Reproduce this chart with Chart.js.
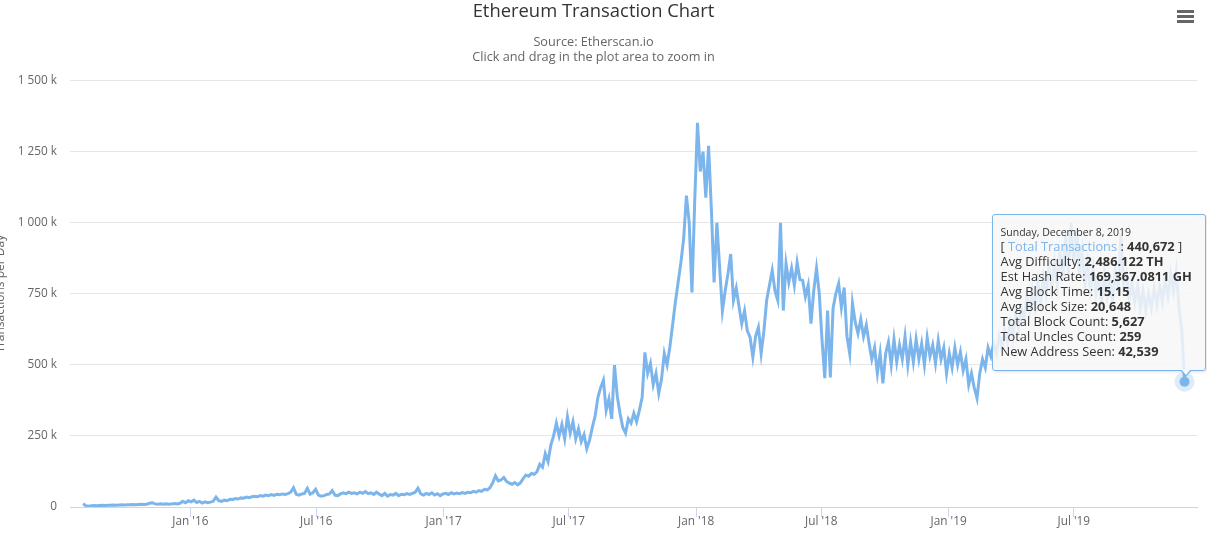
<!DOCTYPE html>
<html lang="en">
<head>
    <meta charset="UTF-8">
    <title>Ethereum Transaction Chart</title>
    <!-- Chart.js -->
    <script src="https://cdn.jsdelivr.net/npm/chart.js"></script>
    <style>
        body { margin: 0; background: #fff; font-family: "Open Sans", Arial, sans-serif; }
        #wrap { position: relative; width: 1207px; height: 536px; overflow: hidden; }
        #txChart { position: absolute; left: -10px; top: 0; }
        .menu { position: absolute; left: 1177px; top: 10px; width: 17px; }
        .menu span { display: block; height: 3px; background: #666; margin-bottom: 2px; }
        #tip {
            position: absolute; width: 214px; box-sizing: border-box;
            padding: 10px 8px 11px 8px;
            background: rgba(247, 247, 247, 0.85);
            border: 1px solid #7cb5ec; border-radius: 3px;
            box-shadow: 1px 1px 3px rgba(0, 0, 0, 0.12);
            color: #333; font-size: 12.8px; line-height: 15px; white-space: nowrap;
        }
        #tip .date { font-size: 10.5px; line-height: 14px; }
        #tip b { font-weight: bold; }
        #tip .name { color: #7cb5ec; }
        #tip .caret {
            position: absolute; bottom: -7px; width: 0; height: 0; margin-left: -6px;
            border-left: 6px solid transparent; border-right: 6px solid transparent;
            border-top: 7px solid #7cb5ec;
        }
        #tip .caret:after {
            content: ''; position: absolute; left: -5px; top: -8px;
            border-left: 5px solid transparent; border-right: 5px solid transparent;
            border-top: 6px solid #f7f7f7;
        }
    </style>
</head>
<body>

<div id="wrap">
    <canvas id="txChart" width="1217" height="536"></canvas>
    <div class="menu"><span></span><span></span><span></span></div>

    <div id="tip">
        <div class="date">Sunday, December 8, 2019</div>
        <div>[ <span class="name">Total Transactions</span> : <b>440,672</b> ]</div>
        <div>Avg Difficulty: <b>2,486.122 TH</b></div>
        <div>Est Hash Rate: <b>169,367.0811 GH</b></div>
        <div>Avg Block Time: <b>15.15</b></div>
        <div>Avg Block Size: <b>20,648</b></div>
        <div>Total Block Count: <b>5,627</b></div>
        <div>Total Uncles Count: <b>259</b></div>
        <div>New Address Seen: <b>42,539</b></div>
        <div class="caret"></div>
    </div>
</div>

<script>
    // daily transactions (thousands), one sample every 4 days starting 30 Jul 2015
    const START_DATE = Date.UTC(2015, 6, 30);
    const STEP_DAYS = 4;

    const tx2015 = [12, 4, 3, 4, 5, 4, 5, 6, 5, 6,
        6, 7, 6, 7, 8, 7, 8, 8, 9, 8,
        9, 10, 9, 10, 13, 15, 11, 10, 11, 10,
        11, 10, 11, 12, 11, 13, 20, 15, 22];

    const tx2016 = [18, 24, 16, 20, 14, 18, 15, 17, 20, 35,
        22, 20, 24, 22, 27, 26, 30, 28, 32, 31,
        35, 33, 36, 38, 36, 40, 38, 42, 40, 44,
        41, 45, 43, 46, 44, 47, 52, 68, 45, 42,
        46, 48, 66, 45, 50, 62, 42, 38, 40, 44,
        46, 58, 42, 40, 46, 50, 47, 52, 48, 50,
        46, 52, 48, 54, 47, 50, 44, 52, 45, 40,
        48, 38, 44, 42, 48, 40, 45, 43, 47, 44,
        48, 52, 66, 46, 42, 48, 44, 50, 42, 47,
        40, 46];

    const tx2017 = [48, 44, 50, 46, 49, 47, 51, 48, 52, 50,
        55, 52, 58, 55, 62, 60, 68, 85, 110, 92,
        95, 104, 90, 84, 80, 86, 78, 85, 100, 112,
        108, 118, 115, 124, 150, 140, 188, 160, 218, 250,
        295, 250, 290, 240, 317, 260, 300, 240, 275, 230,
        255, 205, 235, 280, 320, 385, 420, 446, 340, 380,
        310, 499, 390, 330, 280, 260, 310, 295, 330, 300,
        340, 386, 544, 470, 505, 430, 470, 400, 450, 540,
        500, 562, 640, 720, 790, 860, 944, 1095, 1000, 755,
        1078];

    const tx2018 = [1351, 1180, 1250, 1088, 1270, 1050, 790, 1000, 843, 690,
        760, 820, 890, 727, 770, 705, 645, 690, 620, 597,
        527, 600, 632, 540, 620, 727, 780, 832, 760, 727,
        1000, 691, 856, 790, 840, 780, 860, 800, 797, 740,
        780, 645, 760, 839, 751, 586, 453, 691, 456, 700,
        751, 786, 702, 772, 600, 540, 716, 650, 610, 660,
        600, 640, 576, 520, 560, 470, 540, 435, 540, 580,
        500, 590, 510, 570, 520, 600, 500, 580, 510, 590,
        520, 575, 500, 595, 530, 570, 505, 585, 520, 560,
        470];

    const tx2019 = [540, 490, 560, 500, 545, 480, 520, 430, 470, 420,
        383, 470, 520, 490, 560, 530, 575, 540, 600, 560,
        620, 580, 650, 600, 680, 630, 700, 660, 740, 690,
        760, 700, 790, 720, 810, 750, 840, 770, 860, 780,
        900, 800, 960, 820, 1000, 850, 980, 820, 900, 780,
        860, 760, 840, 750, 800, 720, 820, 740, 800, 730,
        830, 760, 960, 780, 820, 730, 790, 720, 780, 700,
        760, 690, 750, 700, 770, 710, 780, 720, 800, 740,
        820, 760, 830, 700, 620, 440.672];

    const tickYears = [2016, 2017, 2018, 2019];
    const tickMonths = [0, 6];
    const monthNames = ['Jan', 'Feb', 'Mar', 'Apr', 'May', 'Jun', 'Jul', 'Aug', 'Sep', 'Oct', 'Nov', 'Dec'];

    const DAY = 86400000;
    const allTx = [].concat(tx2015, tx2016, tx2017, tx2018, tx2019);
    const points = allTx.map((v, i) => ({ x: START_DATE + i * STEP_DAYS * DAY, y: v * 1000 }));
    const lastIndex = points.length - 1;

    const xTicks = [];
    tickYears.forEach(y => tickMonths.forEach(m => {
        const t = Date.UTC(y, m, 1);
        if (t < Date.UTC(2019, 11, 26)) xTicks.push({ value: t });
    }));

    // hover marker with halo on the last point
    const hoverDot = {
        id: 'hoverDot',
        afterDatasetsDraw(chart) {
            const pt = chart.getDatasetMeta(0).data[lastIndex];
            const ctx = chart.ctx;
            ctx.save();
            ctx.fillStyle = 'rgba(124, 181, 236, 0.25)';
            ctx.beginPath();
            ctx.arc(pt.x, pt.y, 10, 0, Math.PI * 2);
            ctx.fill();
            ctx.fillStyle = '#7cb5ec';
            ctx.beginPath();
            ctx.arc(pt.x, pt.y, 5, 0, Math.PI * 2);
            ctx.fill();
            ctx.restore();
        }
    };

    const ctx = document.getElementById('txChart').getContext('2d');
    const chart = new Chart(ctx, {
        type: 'line',
        data: {
            datasets: [{
                label: 'Total Transactions',
                data: points,
                borderColor: '#7cb5ec',
                borderWidth: 3,
                pointRadius: 0,
                tension: 0,
                fill: false
            }]
        },
        options: {
            responsive: false,
            animation: false,
            devicePixelRatio: 1,
            events: [],
            layout: { padding: { left: 0, right: 10, top: 0, bottom: 0 } },
            plugins: {
                legend: { display: false },
                tooltip: { enabled: false },
                title: {
                    display: true,
                    text: 'Ethereum Transaction Chart',
                    color: '#333333',
                    font: { family: 'Open Sans', size: 18.4, weight: 'normal' },
                    padding: { top: 1, bottom: 12 }
                },
                subtitle: {
                    display: true,
                    text: ['Source: Etherscan.io', 'Click and drag in the plot area to zoom in'],
                    color: '#666666',
                    font: { family: 'Open Sans', size: 12.7, lineHeight: 1.18 },
                    padding: { top: 0, bottom: 15.5 }
                }
            },
            scales: {
                x: {
                    type: 'linear',
                    min: Date.UTC(2015, 6, 11),
                    max: Date.UTC(2019, 11, 26),
                    afterBuildTicks: scale => { scale.ticks = xTicks.slice(); },
                    afterFit: scale => { scale.height = 29; },
                    grid: { drawOnChartArea: false, drawTicks: true, tickLength: 10, color: '#ccd6eb' },
                    border: { display: true, color: '#ccd6eb' },
                    ticks: {
                        autoSkip: false,
                        maxRotation: 0,
                        padding: -2,
                        color: '#666666',
                        font: { family: 'Open Sans', size: 11.8 },
                        callback: v => {
                            const d = new Date(v);
                            return monthNames[d.getUTCMonth()] + " '" + String(d.getUTCFullYear()).slice(2);
                        }
                    }
                },
                y: {
                    min: 0,
                    max: 1500000,
                    afterFit: scale => { scale.width = 80; },
                    grid: { color: '#e6e6e6', drawTicks: false },
                    border: { display: false },
                    title: {
                        display: true,
                        text: 'Transactions per Day',
                        color: '#666666',
                        font: { family: 'Open Sans', size: 12 },
                        padding: { top: 3, bottom: 0 }
                    },
                    ticks: {
                        stepSize: 250000,
                        padding: 13,
                        color: '#666666',
                        font: { family: 'Open Sans', size: 11.8 },
                        callback: v => {
                            if (v === 0) return '0';
                            const k = v / 1000;
                            return String(k).replace(/\B(?=(\d{3})+(?!\d))/g, ' ') + ' k';
                        }
                    }
                }
            }
        },
        plugins: [hoverDot]
    });

    // place the tooltip box over the last point
    const pt = chart.getDatasetMeta(0).data[lastIndex];
    const tip = document.getElementById('tip');
    const px = pt.x - 10;
    const py = pt.y;
    const tipLeft = px + 21 - tip.offsetWidth;
    tip.style.left = tipLeft + 'px';
    tip.style.top = (py - 11 - tip.offsetHeight) + 'px';
    tip.querySelector('.caret').style.left = (px - tipLeft) + 'px';
</script>

</body>
</html>
